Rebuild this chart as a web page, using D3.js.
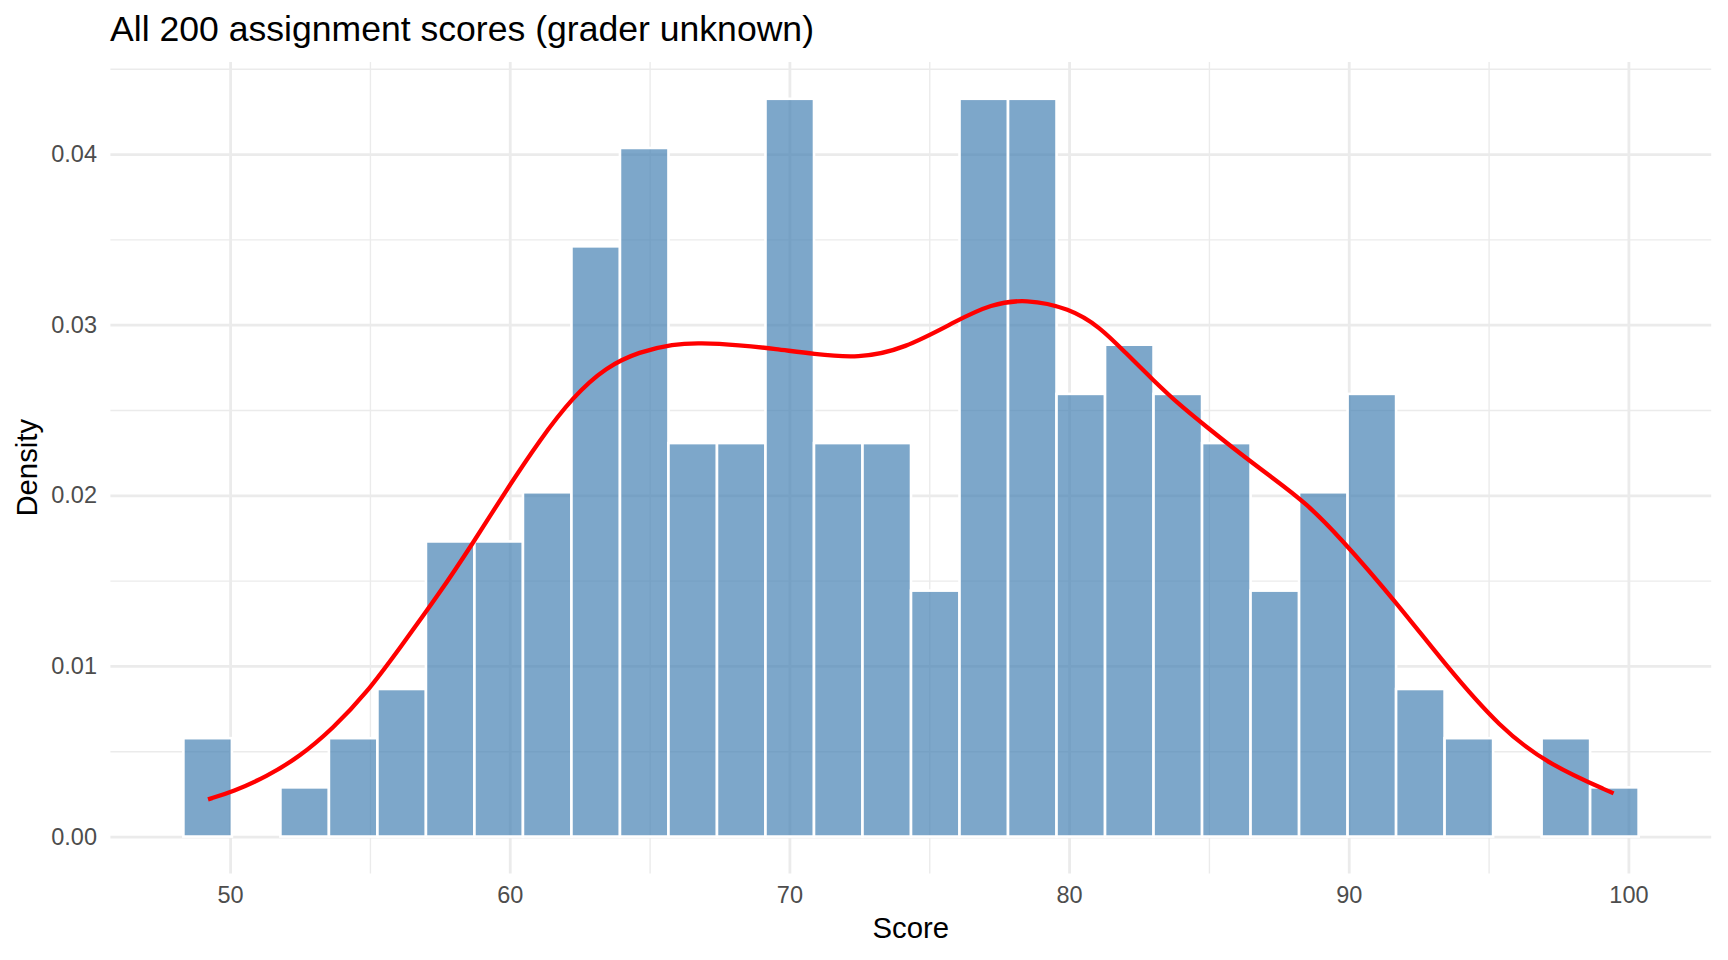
<!DOCTYPE html>
<html><head><meta charset="utf-8">
<script src="https://cdn.jsdelivr.net/npm/d3@7"></script>
<style>
body{margin:0;background:#fff}
svg{display:block}
text{font-family:"Liberation Sans",Arial,Helvetica,sans-serif}
</style>
</head><body>
<svg id="chart" width="1728" height="960"></svg>
<script>
// ---- data ----
const titleText = "All 200 assignment scores (grader unknown)";
const xLabel = "Score";
const yLabel = "Density";
const nTotal = 200;
const binLeft = 48.33;
const binWidth = 1.7345;
const binCounts = [2,0,1,2,3,6,6,7,12,14,8,8,15,8,8,5,15,15,9,10,9,8,5,7,9,3,2,0,2,1];
const densityX = [49.21,50.10,51.30,52.49,53.68,54.87,56.06,57.49,58.68,59.88,61.07,62.26,63.45,64.64,65.84,66.79,68.22,69.5,70.86,72.46,74.09,76.03,77.19,78.45,80.02,81.09,82.04,83.00,83.95,84.91,86.10,87.29,88.48,89.67,91.72,93.47,95.41,97.15,99.47];
const densityY = [0.00218,0.00263,0.00351,0.00468,0.00634,0.00839,0.01103,0.01426,0.01719,0.02031,0.02324,0.02578,0.02754,0.02842,0.02887,0.02894,0.02881,0.02858,0.02828,0.02803,0.02856,0.03028,0.03119,0.03152,0.03096,0.02988,0.02832,0.02676,0.02529,0.02402,0.02246,0.02100,0.01953,0.01757,0.01369,0.01003,0.00636,0.00421,0.00253];
const xTicks = [50,60,70,80,90,100];
const xMinorTicks = [55,65,75,85,95];
const yTicks = [0,0.01,0.02,0.03,0.04];
const yTickLabels = ["0.00","0.01","0.02","0.03","0.04"];
const yMinorTicks = [0.005,0.015,0.025,0.035,0.045];

// ---- layout ----
const panel = {left:110.4, right:1711.2, top:62.1, bottom:873.4};
const svg = d3.select("#chart");

const x = d3.scaleLinear().domain([45.72,102.96]).range([panel.left,panel.right]);
const y = d3.scaleLinear().domain([-0.00216,0.04539]).range([panel.bottom,panel.top]);

const bins = binCounts.map((c,i)=>({x0:binLeft+i*binWidth, x1:binLeft+(i+1)*binWidth, d:c/(nTotal*binWidth)}));

// grid
const grid = svg.append("g");
grid.append("g").attr("transform",`translate(0,${panel.bottom})`)
  .call(d3.axisBottom(x).tickValues(xMinorTicks).tickSize(-(panel.bottom-panel.top)).tickFormat(""))
  .call(g=>{g.select(".domain").remove();g.selectAll("line").attr("stroke","#EBEBEB").attr("stroke-width",1.4);});
grid.append("g").attr("transform",`translate(${panel.left},0)`)
  .call(d3.axisLeft(y).tickValues(yMinorTicks).tickSize(-(panel.right-panel.left)).tickFormat(""))
  .call(g=>{g.select(".domain").remove();g.selectAll("line").attr("stroke","#EBEBEB").attr("stroke-width",1.4);});
grid.append("g").attr("transform",`translate(0,${panel.bottom})`)
  .call(d3.axisBottom(x).tickValues(xTicks).tickSize(-(panel.bottom-panel.top)).tickFormat(""))
  .call(g=>{g.select(".domain").remove();g.selectAll("line").attr("stroke","#EBEBEB").attr("stroke-width",2.8);});
grid.append("g").attr("transform",`translate(${panel.left},0)`)
  .call(d3.axisLeft(y).tickValues(yTicks).tickSize(-(panel.right-panel.left)).tickFormat(""))
  .call(g=>{g.select(".domain").remove();g.selectAll("line").attr("stroke","#EBEBEB").attr("stroke-width",2.8);});

// bars
svg.append("g").selectAll("rect").data(bins).join("rect")
  .attr("x",d=>x(d.x0)).attr("width",d=>x(d.x1)-x(d.x0))
  .attr("y",d=>y(d.d)).attr("height",d=>y(0)-y(d.d))
  .attr("fill","steelblue").attr("fill-opacity",0.7)
  .attr("stroke","#ffffff").attr("stroke-width",2.6);

// density
const dens = densityX.map((v,i)=>[v,densityY[i]]);
svg.append("path").datum(dens)
  .attr("d",d3.line().x(d=>x(d[0])).y(d=>y(d[1])).curve(d3.curveBasis))
  .attr("fill","none").attr("stroke","#FF0000").attr("stroke-width",4.3)
  .attr("stroke-linejoin","round");

// axes labels
svg.append("g").attr("transform",`translate(0,${panel.bottom})`)
  .call(d3.axisBottom(x).tickValues(xTicks).tickSize(0).tickPadding(13).tickFormat(d3.format("d")))
  .call(g=>{g.select(".domain").remove();g.selectAll("text").attr("font-size","23.5px").attr("fill","#4D4D4D").attr("font-family",null);});
svg.append("g").attr("transform",`translate(${panel.left},0)`)
  .call(d3.axisLeft(y).tickValues(yTicks).tickSize(0).tickPadding(13.4).tickFormat((d,i)=>yTickLabels[i]))
  .call(g=>{g.select(".domain").remove();g.selectAll("text").attr("font-size","23.5px").attr("fill","#4D4D4D").attr("font-family",null);});

// titles
svg.append("text").attr("x",110).attr("y",41).attr("font-size","35.6px").attr("fill","#000").text(titleText);
svg.append("text").attr("x",(panel.left+panel.right)/2).attr("y",938).attr("text-anchor","middle")
  .attr("font-size","29.3px").attr("fill","#000").text(xLabel);
svg.append("text").attr("transform",`translate(37.3,${(panel.top+panel.bottom)/2}) rotate(-90)`)
  .attr("text-anchor","middle").attr("font-size","29.3px").attr("fill","#000").text(yLabel);
</script>
</body></html>
